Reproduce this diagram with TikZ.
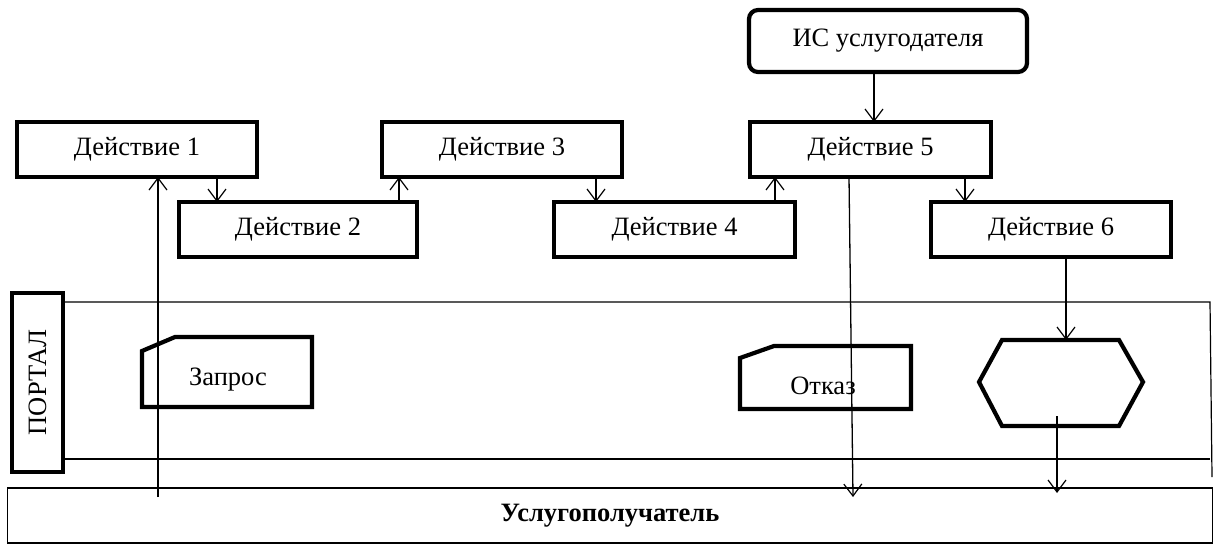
\documentclass[tikz,border=0pt]{standalone}
\usepackage{fontspec}
\setmainfont{Liberation Serif}
\usetikzlibrary{arrows.meta,calc}
\begin{document}
\begin{tikzpicture}[x=1pt,y=-1pt,
  txt/.style={font=\fontsize{26.5}{30}\selectfont},
  act/.style={draw,line width=4.2pt,minimum width=#1,minimum height=55pt,inner sep=0pt,outer sep=0pt,txt},
  thin/.style={line width=1.2pt},
  shp/.style={line width=4.2pt,line join=miter},
  arr/.style={-{Straight Barb[length=12pt,width=18pt,line width=1.2pt]},line width=1.3pt}]
\useasboundingbox (0,0) rectangle (1217,544);
% swimlane
\node[draw,line width=1.4pt,minimum width=1205pt,minimum height=55pt,inner sep=0pt,outer sep=0pt,font=\fontsize{26.5}{30}\selectfont\bfseries] (user) at (610,515.5) {Услугополучатель};
\coordinate (laneTL) at (63,302);
\coordinate (laneTR) at (1210,302);
\coordinate (laneBL) at (63,459);
\coordinate (laneBR) at (1210,459);
\coordinate (laneEnd) at (1212,477);
\draw[thin] (laneTL) -- (laneTR) -- (laneEnd);
\draw[thin] (laneBL) -- (laneBR);
\node[draw,line width=4.2pt,minimum width=51pt,minimum height=179pt,inner sep=0pt,outer sep=0pt] (portal) at (37.5,382.5) {};
\node[txt,rotate=90] (portaltxt) at (portal.center) {ПОРТАЛ};
% top boxes
\node[draw,rounded corners=9pt,line width=4.2pt,minimum width=278pt,minimum height=62pt,inner sep=0pt,outer sep=0pt,txt] (is) at (888,41) {ИС услугодателя};
\node[act=240pt] (d1) at (137,149.5) {Действие 1};
\node[act=238pt] (d2) at (298,229.5) {Действие 2};
\node[act=240pt] (d3) at (502,149.5) {Действие 3};
\node[act=241pt] (d4) at (674.5,229.5) {Действие 4};
\node[act=241pt] (d5) at (870.5,149.5) {Действие 5};
\node[act=240pt] (d6) at (1051,229.5) {Действие 6};
% lane shapes
\draw[shp] (142,351) -- (175,337) -- (312,337) -- (312,407) -- (142,407) -- cycle;
\node[txt] (zapros) at (228,380) {Запрос};
\draw[shp] (740,358) -- (774,346) -- (911,346) -- (911,409) -- (740,409) -- cycle;
\node[txt] (otkaz) at (823,386) {Отказ};
\draw[shp] (979,382) -- (1002,340) -- (1119,340) -- (1143,382) -- (1119,426) -- (1002,426) -- cycle;
\coordinate (hexTop) at (1066,340);
\coordinate (hexIn) at (1057,416);
% connectors
\draw[arr] (is.south -| 874,0) -- (d5.north -| 874,0);
\draw[arr] (d1.south -| 217,0) -- (d2.north -| 217,0);
\draw[arr] (d2.north -| 399,0) -- (d3.south -| 399,0);
\draw[arr] (d3.south -| 596,0) -- (d4.north -| 596,0);
\draw[arr] (d4.north -| 775,0) -- (d5.south -| 775,0);
\draw[arr] (d5.south -| 965,0) -- (d6.north -| 965,0);
\coordinate (reqStart) at (158,497);
\draw[arr] (reqStart) -- (d1.south -| 158,0);
\coordinate (d5out) at (849,177);
\coordinate (refuse) at (853,497);
\draw[arr] (d5out) -- (refuse);
\draw[arr] (d6.south -| 1066,0) -- (hexTop);
\coordinate (hexOut) at (1057,493);
\draw[arr] (hexIn) -- (hexOut);
\end{tikzpicture}
\end{document}
